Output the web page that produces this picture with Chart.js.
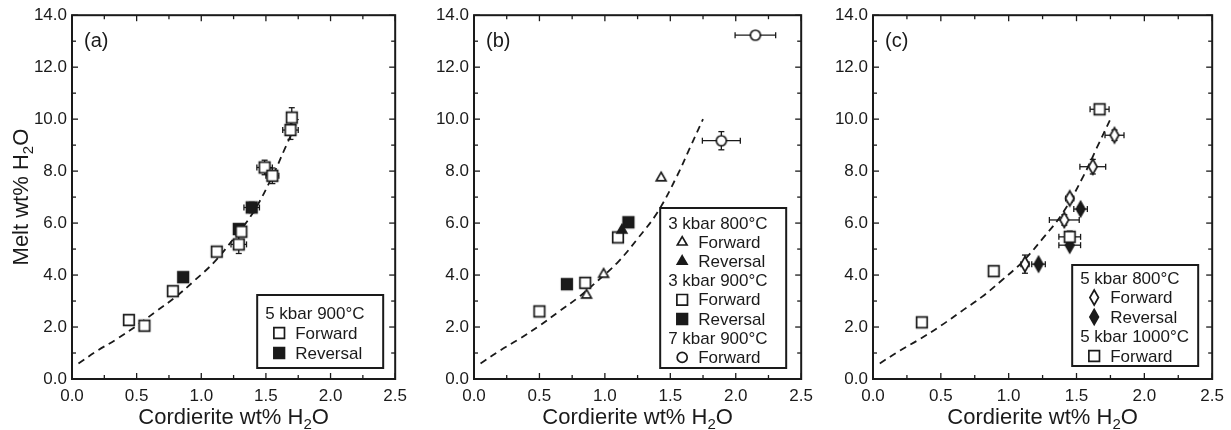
<!DOCTYPE html>
<html>
<head>
<meta charset="utf-8">
<script src="https://cdn.jsdelivr.net/npm/chart.js@4.4.0/dist/chart.umd.min.js"></script>
<style>
  html, body { margin: 0; padding: 0; background: #fff; }
  #wrap { position: relative; width: 1231px; height: 430px; overflow: hidden; }
  canvas { position: absolute; top: 0; }
</style>
</head>
<body>
<div id="wrap">
  <canvas id="pa" width="414" height="430" style="left:0px"></canvas>
  <canvas id="pb" width="410" height="430" style="left:410px"></canvas>
  <canvas id="pc" width="411" height="430" style="left:820px"></canvas>
</div>
<script>
// ---- data ----
// dashed trend curve (same in all panels)
const curveX = [0.05, 0.2, 0.35, 0.5, 0.65, 0.8, 0.95, 1.1, 1.25, 1.4, 1.55, 1.65, 1.75];
const curveY = [0.6, 1.1, 1.55, 2.05, 2.6, 3.15, 3.8, 4.5, 5.4, 6.4, 7.8, 8.9, 10.0];

// (a) 5 kbar 900°C
const aFwdX = [0.44, 0.56, 0.78, 1.12, 1.29, 1.31, 1.49, 1.55, 1.69, 1.70];
const aFwdY = [2.27, 2.05, 3.38, 4.90, 5.18, 5.67, 8.14, 7.82, 9.58, 10.06];
const aFwdXErr = [0, 0, 0, 0, 0.06, 0, 0.06, 0.05, 0.06, 0.03];
const aFwdYErr = [0, 0, 0, 0, 0.35, 0, 0.28, 0.3, 0.36, 0.38];
const aRevX = [0.86, 1.29, 1.39];
const aRevY = [3.92, 5.77, 6.60];
const aRevXErr = [0, 0, 0.06];
const aRevYErr = [0, 0, 0.2];

// (b) 3 kbar 800°C, 3 kbar 900°C, 7 kbar 900°C
const b3_800FwdX = [0.86, 0.99, 1.43];
const b3_800FwdY = [3.23, 4.03, 7.74];
const b3_800RevX = [1.13];
const b3_800RevY = [5.73];
const b3_900FwdX = [0.50, 0.85, 1.10];
const b3_900FwdY = [2.60, 3.70, 5.45];
const b3_900RevX = [0.71, 1.18];
const b3_900RevY = [3.65, 6.03];
const b7_900FwdX = [2.15, 1.89];
const b7_900FwdY = [13.23, 9.17];
const b7_900FwdXErr = [0.155, 0.145];
const b7_900FwdYErr = [0, 0.35];

// (c) 5 kbar 800°C, 5 kbar 1000°C
const c5_800FwdX = [1.12, 1.41, 1.45, 1.62, 1.78];
const c5_800FwdY = [4.42, 6.12, 6.95, 8.17, 9.38];
const c5_800FwdXErr = [0.03, 0.11, 0.03, 0.095, 0.07];
const c5_800FwdYErr = [0.35, 0.2, 0.15, 0.28, 0.2];
const c5_800RevX = [1.22, 1.45, 1.53];
const c5_800RevY = [4.42, 5.15, 6.54];
const c5_800RevXErr = [0.05, 0.08, 0.05];
const c5_800RevYErr = [0, 0, 0.1];
const c5_1000FwdX = [0.36, 0.89, 1.45, 1.67];
const c5_1000FwdY = [2.18, 4.15, 5.47, 10.38];
const c5_1000FwdXErr = [0, 0, 0.08, 0.07];
const c5_1000FwdYErr = [0, 0, 0.22, 0.12];

const xTicks = { min: 0, max: 2.5, step: 0.5, minor: 0.25 };
const yTicks = { min: 0, max: 14, step: 2, minor: 1 };

// ---- styling helpers ----
const INK = '#1a1a1a';
const FONT = '"Liberation Sans", Arial, Helvetica, sans-serif';

function pts(xs, ys) { return xs.map((x, i) => ({ x: x, y: ys[i] })); }

function drawMark(ctx, kind, filled, x, y) {
  ctx.save();
  ctx.lineWidth = 1.7;
  ctx.strokeStyle = INK;
  ctx.fillStyle = filled ? INK : '#fff';
  ctx.beginPath();
  if (kind === 'square') {
    const s = 5.3;
    ctx.rect(x - s, y - s, 2 * s, 2 * s);
  } else if (kind === 'triangle') {
    const r = 5.6;
    ctx.moveTo(x, y - r);
    ctx.lineTo(x + r * 0.866, y + r * 0.5);
    ctx.lineTo(x - r * 0.866, y + r * 0.5);
    ctx.closePath();
  } else if (kind === 'circle') {
    ctx.arc(x, y, 5, 0, Math.PI * 2);
  } else if (kind === 'diamond') {
    ctx.moveTo(x, y - 7.5);
    ctx.lineTo(x + 4.3, y);
    ctx.lineTo(x, y + 7.5);
    ctx.lineTo(x - 4.3, y);
    ctx.closePath();
  }
  ctx.fill();
  ctx.stroke();
  ctx.restore();
}

// marker images so chart points and legend look the same
function markImage(kind, filled) {
  const c = document.createElement('canvas');
  c.width = 18; c.height = 20;
  drawMark(c.getContext('2d'), kind, filled, 9, 10);
  return c;
}

function series(label, xs, ys, kind, filled, xErr, yErr) {
  return {
    label: label,
    data: pts(xs, ys),
    showLine: false,
    pointStyle: markImage(kind, filled),
    pointRadius: 5,
    pointHoverRadius: 5,
    errX: xErr || null,
    errY: yErr || null
  };
}

function curveSet() {
  return {
    label: 'trend',
    data: pts(curveX, curveY),
    showLine: true,
    borderColor: INK,
    borderWidth: 1.8,
    borderDash: [7, 5],
    pointRadius: 0,
    tension: 0.4,
    fill: false
  };
}

function line(ctx, x1, y1, x2, y2) {
  ctx.beginPath(); ctx.moveTo(x1, y1); ctx.lineTo(x2, y2); ctx.stroke();
}

// error bars, frame, inward ticks, titles, legend, panel label
const panelPlugin = {
  id: 'panel',
  beforeDatasetsDraw(chart) {
    const ctx = chart.ctx, xs = chart.scales.x, ys = chart.scales.y;
    ctx.save();
    ctx.strokeStyle = INK;
    ctx.lineWidth = 1.3;
    chart.data.datasets.forEach(ds => {
      ds.data.forEach((p, i) => {
        const px = xs.getPixelForValue(p.x), py = ys.getPixelForValue(p.y);
        if (ds.errX && ds.errX[i] > 0) {
          const l = xs.getPixelForValue(p.x - ds.errX[i]);
          const r = xs.getPixelForValue(p.x + ds.errX[i]);
          line(ctx, l, py, r, py);
          line(ctx, l, py - 3, l, py + 3);
          line(ctx, r, py - 3, r, py + 3);
        }
        if (ds.errY && ds.errY[i] > 0) {
          const t = ys.getPixelForValue(p.y + ds.errY[i]);
          const b = ys.getPixelForValue(p.y - ds.errY[i]);
          line(ctx, px, t, px, b);
          line(ctx, px - 3, t, px + 3, t);
          line(ctx, px - 3, b, px + 3, b);
        }
      });
    });
    ctx.restore();
  },
  afterDraw(chart, args, opts) {
    const ctx = chart.ctx, xs = chart.scales.x, ys = chart.scales.y;
    const { left, right, top, bottom } = chart.chartArea;
    ctx.save();
    ctx.strokeStyle = INK;
    ctx.fillStyle = INK;

    // inward ticks on all four sides
    ctx.lineWidth = 1.3;
    for (let v = xTicks.min; v <= xTicks.max + 1e-6; v += xTicks.minor) {
      const px = xs.getPixelForValue(v);
      const major = Math.abs(v / xTicks.step - Math.round(v / xTicks.step)) < 1e-6;
      const len = major ? 6 : 4;
      line(ctx, px, bottom, px, bottom - len);
      line(ctx, px, top, px, top + len);
    }
    for (let v = yTicks.min; v <= yTicks.max + 1e-6; v += yTicks.minor) {
      const py = ys.getPixelForValue(v);
      const major = Math.abs(v / yTicks.step - Math.round(v / yTicks.step)) < 1e-6;
      const len = major ? 6 : 4;
      line(ctx, left, py, left + len, py);
      line(ctx, right, py, right - len, py);
    }

    // frame
    ctx.lineWidth = 2;
    ctx.strokeRect(left, top, right - left, bottom - top);

    // panel label
    ctx.font = '20px ' + FONT;
    ctx.textBaseline = 'middle';
    ctx.textAlign = 'left';
    ctx.fillText(opts.label, left + 12, top + 26);

    // axis title with subscript
    const drawTitle = (pre, sub, post, cx, cy) => {
      ctx.font = '22px ' + FONT;
      const w1 = ctx.measureText(pre).width;
      const w3 = ctx.measureText(post).width;
      ctx.font = '15px ' + FONT;
      const w2 = ctx.measureText(sub).width;
      let x = cx - (w1 + w2 + w3) / 2;
      ctx.textAlign = 'left';
      ctx.textBaseline = 'alphabetic';
      ctx.font = '22px ' + FONT;
      ctx.fillText(pre, x, cy);
      x += w1;
      ctx.font = '15px ' + FONT;
      ctx.fillText(sub, x, cy + 5);
      x += w2;
      ctx.font = '22px ' + FONT;
      ctx.fillText(post, x, cy);
    };
    drawTitle('Cordierite wt% H', '2', 'O', (left + right) / 2, 424);
    if (opts.yTitle) {
      ctx.save();
      ctx.translate(28, (top + bottom) / 2);
      ctx.rotate(-Math.PI / 2);
      drawTitle('Melt wt% H', '2', 'O', 0, 0);
      ctx.restore();
    }

    // legend box
    const lg = opts.legend;
    const bx = right - lg.rightGap - lg.w, by = bottom - lg.bottomGap - lg.h;
    ctx.fillStyle = '#fff';
    ctx.fillRect(bx, by, lg.w, lg.h);
    ctx.lineWidth = 2;
    ctx.strokeRect(bx, by, lg.w, lg.h);
    ctx.fillStyle = INK;
    ctx.font = '17px ' + FONT;
    ctx.textBaseline = 'middle';
    lg.items.forEach((it, i) => {
      const cy = by + lg.first + i * lg.step;
      if (!it.kind) {
        ctx.fillText(it.text, bx + 8, cy + 1);
      } else {
        drawMark(ctx, it.kind, it.filled, bx + 22, cy);
        ctx.fillStyle = INK;
        ctx.fillText(it.text, bx + 38, cy + 1);
      }
    });
    ctx.restore();
  }
};

function makeChart(id, datasets, yWidth, padRight, label, yTitle, legend) {
  return new Chart(document.getElementById(id), {
    type: 'scatter',
    data: { datasets: datasets },
    options: {
      responsive: false,
      animation: false,
      events: [],
      layout: { padding: { left: 0, right: padRight, top: 15, bottom: 0 } },
      plugins: {
        legend: { display: false },
        tooltip: { enabled: false },
        panel: { label: label, yTitle: yTitle, legend: legend }
      },
      scales: {
        x: {
          type: 'linear',
          min: xTicks.min, max: xTicks.max,
          grid: { display: false, drawTicks: false },
          border: { display: false },
          ticks: {
            stepSize: xTicks.step, padding: 7, color: INK,
            font: { family: FONT, size: 17 },
            maxRotation: 0,
            callback: v => v.toFixed(1)
          },
          afterFit: s => { s.height = 51; }
        },
        y: {
          type: 'linear',
          min: yTicks.min, max: yTicks.max,
          grid: { display: false, drawTicks: false },
          border: { display: false },
          ticks: {
            stepSize: yTicks.step, padding: 5, color: INK,
            font: { family: FONT, size: 17 },
            callback: v => v.toFixed(1)
          },
          afterFit: s => { s.width = yWidth; }
        }
      }
    },
    plugins: [panelPlugin]
  });
}

// (a)
makeChart('pa', [
  series('Forward', aFwdX, aFwdY, 'square', false, aFwdXErr, aFwdYErr),
  series('Reversal', aRevX, aRevY, 'square', true, aRevXErr, aRevYErr),
  curveSet()
], 72, 4, '(a)', true, {
  rightGap: 12, bottomGap: 11, w: 126, h: 73, first: 18, step: 20,
  items: [
    { text: '5 kbar 900°C' },
    { kind: 'square', filled: false, text: 'Forward' },
    { kind: 'square', filled: true, text: 'Reversal' }
  ]
});

// (b)
makeChart('pb', [
  series('7 kbar 900°C Forward', b7_900FwdX, b7_900FwdY, 'circle', false, b7_900FwdXErr, b7_900FwdYErr),
  series('3 kbar 900°C Reversal', b3_900RevX, b3_900RevY, 'square', true),
  series('3 kbar 800°C Reversal', b3_800RevX, b3_800RevY, 'triangle', true),
  series('3 kbar 900°C Forward', b3_900FwdX, b3_900FwdY, 'square', false),
  series('3 kbar 800°C Forward', b3_800FwdX, b3_800FwdY, 'triangle', false),
  curveSet()
], 64, 6, '(b)', false, {
  rightGap: 15, bottomGap: 11, w: 126, h: 160, first: 15, step: 19.2,
  items: [
    { text: '3 kbar 800°C' },
    { kind: 'triangle', filled: false, text: 'Forward' },
    { kind: 'triangle', filled: true, text: 'Reversal' },
    { text: '3 kbar 900°C' },
    { kind: 'square', filled: false, text: 'Forward' },
    { kind: 'square', filled: true, text: 'Reversal' },
    { text: '7 kbar 900°C' },
    { kind: 'circle', filled: false, text: 'Forward' }
  ]
});

// (c)
makeChart('pc', [
  series('5 kbar 1000°C Forward', c5_1000FwdX, c5_1000FwdY, 'square', false, c5_1000FwdXErr, c5_1000FwdYErr),
  series('5 kbar 800°C Forward', c5_800FwdX, c5_800FwdY, 'diamond', false, c5_800FwdXErr, c5_800FwdYErr),
  series('5 kbar 800°C Reversal', c5_800RevX, c5_800RevY, 'diamond', true, c5_800RevXErr, c5_800RevYErr),
  curveSet()
], 53, 18, '(c)', false, {
  rightGap: 14, bottomGap: 13, w: 126, h: 101, first: 13, step: 19.5,
  items: [
    { text: '5 kbar 800°C' },
    { kind: 'diamond', filled: false, text: 'Forward' },
    { kind: 'diamond', filled: true, text: 'Reversal' },
    { text: '5 kbar 1000°C' },
    { kind: 'square', filled: false, text: 'Forward' }
  ]
});
</script>
</body>
</html>
